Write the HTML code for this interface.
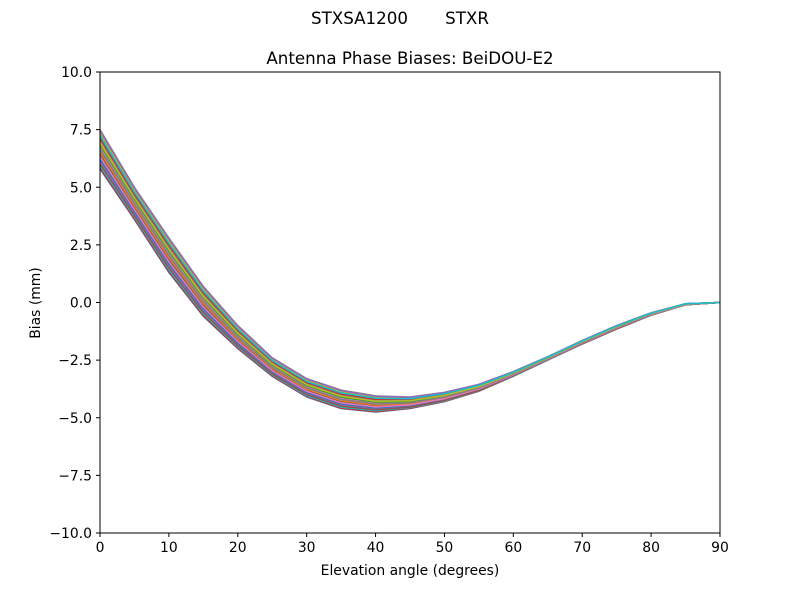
<!DOCTYPE html>
<html><head><meta charset="utf-8"><style>
body{margin:0;background:#fff;}
svg{display:block;font-family:"DejaVu Sans","Liberation Sans",sans-serif;}
</style></head><body>
<svg id="s" width="800" height="600" xmlns="http://www.w3.org/2000/svg">
<rect width="800" height="600" fill="#fff"/>
<text x="400" y="24" font-size="16.7" text-anchor="middle">STXSA1200&#160;&#160;&#160;&#160;&#160;&#160;&#160;STXR</text>
<text x="410" y="64" font-size="16.7" text-anchor="middle">Antenna Phase Biases: BeiDOU-E2</text>
<g id="lines"></g>
<rect x="100" y="72" width="620" height="461" fill="none" stroke="#000" stroke-width="1"/>
<g id="ticks" font-size="13.9"></g>
<text x="410" y="575" font-size="13.9" text-anchor="middle">Elevation angle (degrees)</text>
<text transform="translate(40,303) rotate(-90)" font-size="13.9" text-anchor="middle">Bias (mm)</text>
</svg>
<script>
const X=v=>100+v*620/90, Y=v=>302.5-v*23.05;
const hi=[7.5,5.0,2.8,0.7,-1.0,-2.4,-3.3,-3.8,-4.05,-4.1,-3.9,-3.55,-3.0,-2.35,-1.65,-1.0,-0.45,-0.05,0];
const lo=[5.8,3.6,1.3,-0.6,-2.0,-3.2,-4.1,-4.6,-4.75,-4.6,-4.3,-3.85,-3.2,-2.5,-1.8,-1.15,-0.55,-0.1,0];
const cols=["#1f77b4","#ff7f0e","#2ca02c","#d62728","#9467bd","#8c564b","#e377c2","#7f7f7f","#bcbd22","#17becf"];
let h="";const N=40;
for(let i=0;i<N;i++){const t=(i*7%N)/(N-1);let p=[];
for(let k=0;k<19;k++){p.push(X(k*5).toFixed(1)+","+Y(lo[k]+(hi[k]-lo[k])*t).toFixed(1));}
h+=`<polyline points="${p.join(" ")}" fill="none" stroke="${cols[i%10]}" stroke-width="1.5"/>`;}
document.getElementById("lines").innerHTML=h;
let g="";
for(let v=0;v<=90;v+=10){const x=X(v);g+=`<line x1="${x}" y1="533" x2="${x}" y2="537" stroke="#000"/><text x="${x}" y="552" text-anchor="middle">${v}</text>`;}
for(let v=-10;v<=10;v+=2.5){const y=Y(v);g+=`<line x1="96" y1="${y}" x2="100" y2="${y}" stroke="#000"/><text x="92" y="${y+5}" text-anchor="end">${v.toFixed(1).replace("-","\u2212")}</text>`;}
document.getElementById("ticks").innerHTML=g;
</script>
</body></html>
